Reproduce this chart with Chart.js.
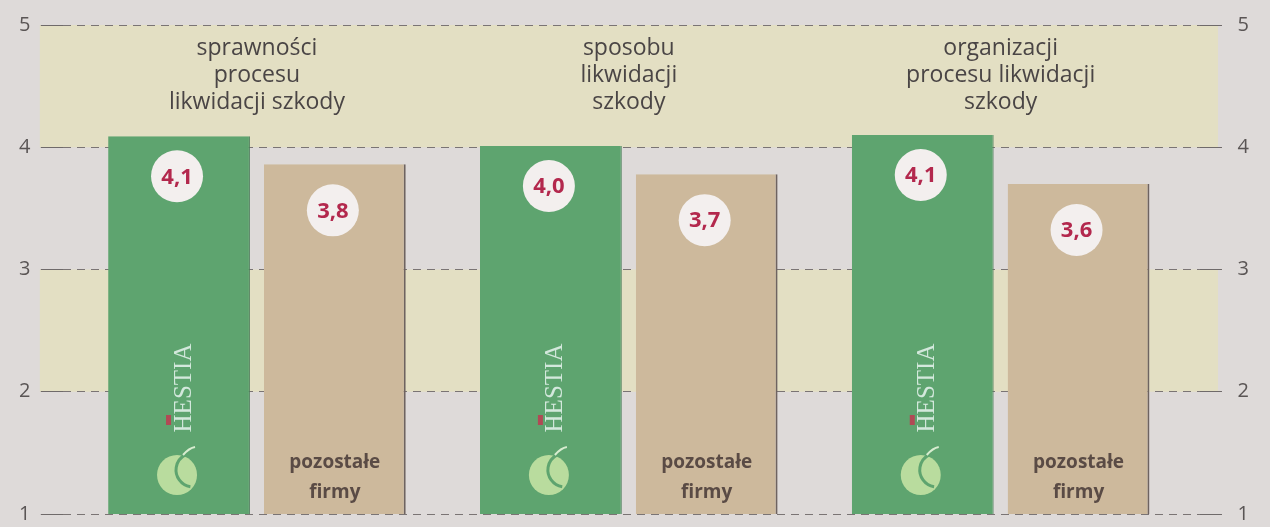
<!DOCTYPE html>
<html lang="pl">
<head>
    <meta charset="UTF-8">
    <title>Ocena likwidacji szkód</title>
    <style>
        body { margin: 0; background: #dedad9; font-family: 'Open Sans', sans-serif; }
        #wrap { position: relative; width: 1270px; height: 527px; }
    </style>
    <script src="https://cdn.jsdelivr.net/npm/chart.js@4.4.1/dist/chart.umd.min.js"></script>
</head>
<body>

<div id="wrap"><canvas id="chart" width="1270" height="527"></canvas></div>

<script>
    // data
    const categories = [
        ['sprawności', 'procesu', 'likwidacji szkody'],
        ['sposobu', 'likwidacji', 'szkody'],
        ['organizacji', 'procesu likwidacji', 'szkody']
    ];
    const seriesNames = ['HESTIA', 'pozostałe firmy'];
    const hestiaBars = [4.09, 4.01, 4.10];   // bar heights as drawn
    const otherBars = [3.86, 3.78, 3.70];
    const hestiaLabels = ['4,1', '4,0', '4,1'];
    const otherLabels = ['3,8', '3,7', '3,6'];
    const yTicks = [1, 2, 3, 4, 5];
    const bands = [[4, 5], [2, 3]];

    const xs = categories.map((c, i) => i);

    const greenBar = '#5ea46f';
    const tanBar = '#cdb99c';
    const bandColor = '#e3dfc3';

    // yellow bands behind the grid
    const bandsPlugin = {
        id: 'bands',
        beforeDraw(chart) {
            const { ctx, chartArea } = chart;
            const y = chart.scales.y;
            ctx.save();
            ctx.fillStyle = bandColor;
            bands.forEach(b => {
                const top = y.getPixelForValue(b[1]);
                const bot = y.getPixelForValue(b[0]);
                ctx.fillRect(chartArea.left - 23, top, chartArea.right - chartArea.left + 41, bot - top);
            });
            ctx.restore();
        }
    };

    // titles, value circles and bar decorations
    const decorPlugin = {
        id: 'decor',
        afterDatasetsDraw(chart) {
            const { ctx } = chart;
            const x = chart.scales.x;
            ctx.save();
            ctx.textAlign = 'center';
            ctx.textBaseline = 'middle';

            // category titles
            ctx.fillStyle = '#4a4545';
            ctx.font = '23px "Open Sans"';
            categories.forEach((lines, i) => {
                const cx = x.getPixelForValue(xs[i]);
                lines.forEach((t, j) => ctx.fillText(t, cx, 48 + j * 27));
            });

            const labelSets = [hestiaLabels, otherLabels];
            const offsets = [40, 46];
            chart.data.datasets.forEach((ds, di) => {
                const meta = chart.getDatasetMeta(di);
                meta.data.forEach((bar, i) => {
                    // value circle
                    const cy = bar.y + offsets[di];
                    ctx.fillStyle = '#f3efee';
                    ctx.beginPath();
                    ctx.arc(bar.x - 2, cy, 26, 0, Math.PI * 2);
                    ctx.fill();
                    ctx.fillStyle = '#b3284d';
                    ctx.font = 'bold 22px "Open Sans"';
                    ctx.fillText(labelSets[di][i], bar.x - 2, cy + 1);

                    if (di === 0) {
                        // HESTIA word, vertical
                        ctx.save();
                        ctx.translate(bar.x + 5, 388);
                        ctx.rotate(-Math.PI / 2);
                        ctx.fillStyle = '#d3e8dc';
                        ctx.font = '25px "Liberation Serif"';
                        ctx.fillText('HESTIA', 0, 0);
                        ctx.restore();
                        ctx.fillStyle = '#b04a55';
                        ctx.fillRect(bar.x - 13, 415, 5, 10);
                        // logo
                        ctx.fillStyle = '#b9dc9e';
                        ctx.beginPath();
                        ctx.arc(bar.x - 2, 475, 20, 0, Math.PI * 2);
                        ctx.fill();
                        ctx.strokeStyle = '#5ea46f';
                        ctx.lineWidth = 3;
                        ctx.beginPath();
                        ctx.arc(bar.x + 14, 470, 17, Math.PI * 0.55, Math.PI * 1.35);
                        ctx.stroke();
                        ctx.strokeStyle = '#d8ecd0';
                        ctx.lineWidth = 2;
                        ctx.beginPath();
                        ctx.moveTo(bar.x + 4, 455);
                        ctx.quadraticCurveTo(bar.x + 10, 448, bar.x + 16, 447);
                        ctx.stroke();
                    } else {
                        ctx.fillStyle = '#5a4b45';
                        ctx.font = 'bold 19px "Open Sans"';
                        ctx.fillText('pozostałe', bar.x, 463);
                        ctx.fillText('firmy', bar.x, 493);
                    }
                });
            });
            ctx.restore();
        }
    };

    // line height 1 keeps the label padding small so the 1 and 5 lines sit near the edges
    const tickFont = { family: 'Open Sans', size: 20, lineHeight: 1 };

    new Chart(document.getElementById('chart'), {
        type: 'bar',
        data: {
            datasets: [
                {
                    label: seriesNames[0],
                    data: xs.map((v, i) => ({ x: v, y: hestiaBars[i] })),
                    backgroundColor: greenBar,
                    borderColor: '#4b7d5a',
                    borderWidth: { top: 0, left: 0, right: 1, bottom: 2 },
                    borderSkipped: false
                },
                {
                    label: seriesNames[1],
                    data: xs.map((v, i) => ({ x: v, y: otherBars[i] })),
                    backgroundColor: tanBar,
                    borderColor: '#6e6360',
                    borderWidth: { top: 0, left: 0, right: 2, bottom: 2 },
                    borderSkipped: false
                }
            ]
        },
        options: {
            responsive: false,
            animation: false,
            devicePixelRatio: 1,
            categoryPercentage: 0.838,
            barPercentage: 0.91,
            layout: { padding: { left: 19, right: 21, top: 25, bottom: 13 } },
            plugins: { legend: { display: false }, tooltip: { enabled: false } },
            scales: {
                x: {
                    type: 'linear',
                    display: false,
                    offset: false,
                    min: -0.522,
                    max: 2.536,
                    afterBuildTicks: s => { s.ticks = xs.map(v => ({ value: v })); }
                },
                y: {
                    position: 'left',
                    min: 1, max: 5,
                    afterBuildTicks: s => { s.ticks = yTicks.map(v => ({ value: v })); },
                    border: { display: false, dash: [8, 6] },
                    grid: {
                        color: '#7a7474',
                        lineWidth: 1,
                        tickLength: 22,
                        tickBorderDash: [],
                        tickColor: '#6f6a6a',
                        drawTicks: true
                    },
                    ticks: { color: '#5a5555', font: tickFont, padding: 0, callback: v => v + '  ' }
                },
                y2: {
                    position: 'right',
                    min: 1, max: 5,
                    afterBuildTicks: s => { s.ticks = yTicks.map(v => ({ value: v })); },
                    border: { display: false },
                    grid: {
                        color: '#6f6a6a',
                        drawOnChartArea: false,
                        tickLength: 22
                    },
                    ticks: { color: '#5a5555', font: tickFont, padding: 0, callback: v => '   ' + v }
                }
            }
        },
        plugins: [bandsPlugin, decorPlugin]
    });
</script>

</body>
</html>
